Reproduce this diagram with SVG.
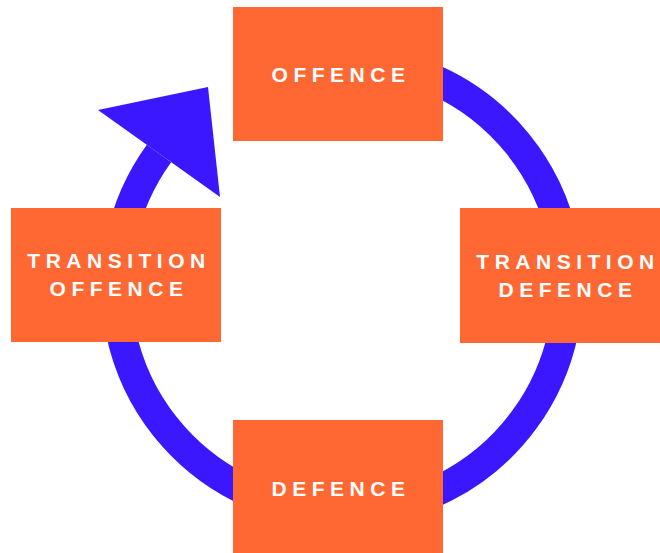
<svg xmlns="http://www.w3.org/2000/svg" width="660" height="553" viewBox="0 0 660 553">
  <style>
    .box { fill: #FF6733; }
    .lbl { fill: #FFFFFF; font-family: "Liberation Sans", Arial, sans-serif; font-weight: bold; font-size: 21px; letter-spacing: 5.5px; text-anchor: middle; }
    .ring { fill: none; stroke: #3B17FF; stroke-width: 30; }
    .head { fill: #3B17FF; }
  </style>
  <rect width="660" height="553" fill="#FFFFFF"/>
  <g id="connectors">
    <path class="ring" d="M 342 60 A 226 226 0 1 1 159 153.5"/>
    <polygon class="head" points="98,110 208,87 220,197"/>
  </g>
  <g id="offence">
    <rect class="box" x="233" y="7" width="210" height="134"/>
    <text class="lbl" x="341" y="82">OFFENCE</text>
  </g>
  <g id="transition-offence">
    <rect class="box" x="11" y="208" width="210" height="134"/>
    <text class="lbl" x="119" y="268">TRANSITION</text>
    <text class="lbl" x="119" y="296">OFFENCE</text>
  </g>
  <g id="transition-defence">
    <rect class="box" x="460" y="208" width="210" height="135"/>
    <text class="lbl" x="568" y="269">TRANSITION</text>
    <text class="lbl" x="568" y="297">DEFENCE</text>
  </g>
  <g id="defence">
    <rect class="box" x="233" y="420" width="210" height="134"/>
    <text class="lbl" x="341" y="496">DEFENCE</text>
  </g>
</svg>
